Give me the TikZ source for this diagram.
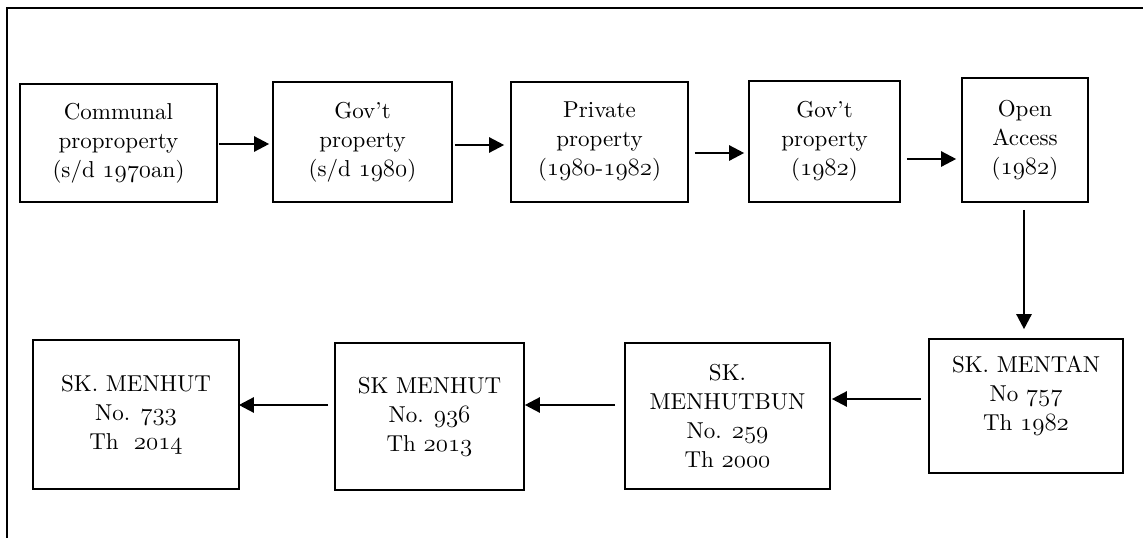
\documentclass[tikz,border=0pt]{standalone}
\usepackage{fontspec}
\setmainfont{lmroman10-regular}[Extension=.otf]
\newcommand\osn[1]{{\usefont{OML}{cmm}{m}{it}#1}}
\usetikzlibrary{arrows.meta}
\begin{document}
\begin{tikzpicture}[x=1pt,y=-1pt,
  box/.style={draw=black,line width=1.6pt,align=center,inner sep=0pt,
    font=\fontsize{23}{29}\selectfont},
  txt/.style={align=center,inner sep=0pt,font=\fontsize{23}{29}\selectfont},
  arr/.style={line width=2.4pt,-{Triangle[length=15pt,width=15pt]}},
  frameline/.style={line width=1.6pt}]
\useasboundingbox (0,0) rectangle (1143,538);
% frame
\coordinate (ftl) at (7,8);
\coordinate (ftr) at (1143,8);
\coordinate (fbl) at (7,538);
\draw[frameline] (fbl) -- (ftl) -- (ftr);
% top row
\node[box,minimum width=197pt,minimum height=118pt] (b1) at (118.5,143)
  {Communal\\proproperty\\(s/d \osn{1970}an)};
\node[box,minimum width=179pt,minimum height=120pt] (b2) at (362.5,142)
  {Gov’t\\property\\(s/d \osn{1980})};
\node[box,minimum width=177pt,minimum height=120pt] (b3) at (599.5,142)
  {Private\\property\\(\osn{1980}-\osn{1982})};
\node[box,minimum width=151pt,minimum height=121pt] (b4) at (824.5,141.5)
  {Gov’t\\property\\(\osn{1982})};
\node[box,minimum width=126pt,minimum height=124pt] (b5) at (1025,140)
  {Open\\Access\\(\osn{1982})};
% bottom row
\node[box,minimum width=194pt,minimum height=134pt] (b6) at (1026,406) {};
\node[txt] (b6t) at (1026,396) {SK. MENTAN\\No \osn{757}\\Th \osn{1982}};
\node[box,minimum width=205pt,minimum height=146pt] (b7) at (727.5,416)
  {SK.\\MENHUTBUN\\No. \osn{259}\\Th \osn{2000}};
\node[box,minimum width=189pt,minimum height=147pt] (b8) at (429.5,416.5)
  {SK MENHUT\\No. \osn{936}\\Th \osn{2013}};
\node[box,minimum width=206pt,minimum height=149pt] (b9) at (136,414.5)
  {SK. MENHUT\\No. \osn{733}\\Th~~\osn{2014}};
% arrows
\draw[arr] ([xshift=1pt]b1.east |- 0,144) -- ([xshift=-3pt]b2.west |- 0,144);
\draw[arr] ([xshift=2pt]b2.east |- 0,145) -- ([xshift=-6pt]b3.west |- 0,145);
\draw[arr] ([xshift=6pt]b3.east |- 0,153) -- ([xshift=-4pt]b4.west |- 0,153);
\draw[arr] ([xshift=6pt]b4.east |- 0,159) -- ([xshift=-5pt]b5.west |- 0,159);
\draw[arr] ([yshift=-7pt]b5.south -| 1024,0) -- ([yshift=9pt]b6.north -| 1024,0);
\draw[arr] ([xshift=-7pt]b6.west |- 0,399) -- ([xshift=1pt]b7.east |- 0,399);
\draw[arr] ([xshift=-9pt]b7.west |- 0,405) -- ([xshift=0pt]b8.east |- 0,405);
\draw[arr] ([xshift=-6pt]b8.west |- 0,405) -- ([xshift=-1pt]b9.east |- 0,405);
\end{tikzpicture}
\end{document}
